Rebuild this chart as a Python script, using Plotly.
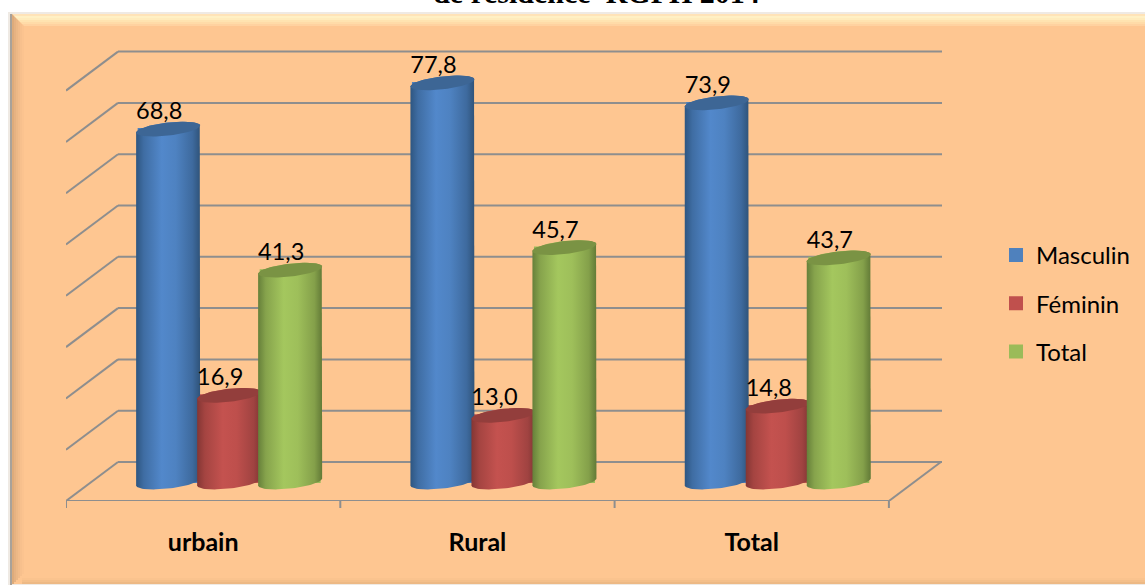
import math
import plotly.graph_objects as go

categories = ["urbain", "Rural", "Total"]
masculin = [68.8, 77.8, 73.9]
feminin = [16.9, 13.0, 14.8]
total = [41.3, 45.7, 43.7]
grid_values = [0, 10, 20, 30, 40, 50, 60, 70, 80]

W, H = 1145, 585
L, R, T, B = 66, 942, 40, 501      # plot area in page pixels
CAT_PX = 274.3                     # pixels per category
VAL_PX = 5.13                      # pixels per unit of value
XMIN = -0.5
XMAX = XMIN + (R - L) / CAT_PX
YMIN = -3.7
YMAX = YMIN + (B - T) / VAL_PX
DX = 52 / CAT_PX                   # floor depth, x units
DY = 39 / VAL_PX                   # floor depth, value units
BX = 26 / CAT_PX                   # bars stand halfway in the floor


def px(p):
    return (p - L) / (R - L)


def py(p):
    return (B - p) / (B - T)


series = [
    ("Masculin", masculin, "#4F81BD", "#3D6695",
     [[0, "#2E5681"], [0.12, "#3F6DA3"], [0.4, "#5288CB"], [0.62, "#4E82C1"], [0.88, "#3E6A9E"], [1, "#2F5379"]]),
    ("Féminin", feminin, "#C0504D", "#933E3C",
     [[0, "#843634"], [0.12, "#A44441"], [0.4, "#C4524F"], [0.62, "#BE4F4C"], [0.88, "#A04341"], [1, "#7F3533"]]),
    ("Total", total, "#9BBB59", "#7A9344",
     [[0, "#66803A"], [0.12, "#86A34C"], [0.4, "#A4C75E"], [0.62, "#9EBF5A"], [0.88, "#84A04A"], [1, "#627A37"]]),
]
BAR_W = 63 / CAT_PX
STEP = 61 / CAT_PX
EA, EB, ES = 32 / CAT_PX, 6.5 / VAL_PX, 3.5 / VAL_PX


def ell(cx, cy, t):
    return cx + EA * math.cos(t), cy + EB * math.sin(t) + ES * math.cos(t)


shapes = []
# page frame
FR_L, FR_T, FR_B = 12, 14, 584
FILL = "#FEC691"


def rect(x0, y0, x1, y1, color):
    shapes.append(dict(type="rect", xref="paper", yref="paper", x0=px(x0), x1=px(x1),
                       y0=py(y0), y1=py(y1), fillcolor=color, line_width=0, layer="below"))


rect(FR_L - 4, FR_T - 2, W, H, "#EFEAE4")
rect(FR_L - 2, FR_T, FR_L, H, "#A8A29A")
rect(FR_L, FR_T, W, FR_B, FILL)
for i, c in enumerate(["#DDAB7B", "#E6B282", "#ECB886", "#F2BC8A", "#F7C08D", "#FBC38F"]):
    rect(FR_L + 2 * i, FR_T + 2 * i, FR_L + 2 * i + 2, FR_B - 2 * i, c)
for i, c in enumerate(["#FFE3B8", "#FFF0C4", "#FFEBBC", "#FFE3B0", "#FFDBA8", "#FFD2A0"]):
    y0 = FR_T + 2 * i
    x0 = FR_L + 2 * i
    shapes.append(dict(type="path", xref="paper", yref="paper", layer="below", line_width=0, fillcolor=c,
                       path=f"M{px(x0)},{py(y0)}L{px(W)},{py(y0)}L{px(W)},{py(y0+2)}L{px(x0+2)},{py(y0+2)}Z"))
for i, c in enumerate(["#EDB985", "#F4BF8A", "#FAC38E"]):
    rect(FR_L + 10, FR_B - 2 * i - 2, W, FR_B - 2 * i, c)

# walls and floor
GRID = dict(color="#8E8E8E", width=2)
for v in grid_values:
    yb = YMIN + DY + v
    yf = YMIN + v
    shapes.append(dict(type="line", xref="x", yref="y", x0=XMIN + DX, x1=XMAX, y0=yb, y1=yb, line=GRID, layer="below"))
    shapes.append(dict(type="line", xref="x", yref="y", x0=XMIN, x1=XMIN + DX, y0=yf, y1=yb, line=GRID, layer="below"))
XF = XMIN + len(categories)
shapes.append(dict(type="line", xref="x", yref="y", x0=XMIN, x1=XF, y0=YMIN, y1=YMIN, line=GRID, layer="below"))
shapes.append(dict(type="line", xref="x", yref="y", x0=XF, x1=XF + DX, y0=YMIN, y1=YMIN + DY, line=GRID, layer="below"))
for k in range(len(categories) + 1):
    shapes.append(dict(type="line", xref="x", yref="paper", x0=XMIN + k, x1=XMIN + k,
                       y0=0, y1=py(B + 7), line=GRID, layer="below"))

fig = go.Figure()
positions = {}
for s, (name, vals, col, cap, cs) in enumerate(series):
    xs = [i + BX + (s - 1) * STEP for i in range(len(categories))]
    positions[name] = xs
    fig.add_trace(go.Bar(x=xs, y=vals, width=BAR_W - 4 / CAT_PX, name=name, legendgroup=name,
                         marker=dict(color=col, line=dict(color=col, width=2)), hoverinfo="skip"))

N = 40
for name, vals, col, cap, cs in series:
    for x, v in zip(positions[name], vals):
        front = [ell(x, 0, math.pi + math.pi * k / N) for k in range(N + 1)]
        back = [ell(x, v, math.pi * k / N) for k in range(N + 1)]
        pts = front + back
        fig.add_trace(go.Scatter(x=[p[0] for p in pts] + [pts[0][0]], y=[p[1] for p in pts] + [pts[0][1]],
                                 mode="lines", line=dict(width=0), fill="toself", showlegend=False, hoverinfo="skip",
                                 fillcolor=col,
                                 fillgradient=dict(type="horizontal", colorscale=cs)))
        top = [ell(x, v, 2 * math.pi * k / (2 * N)) for k in range(2 * N + 1)]
        fig.add_trace(go.Scatter(x=[p[0] for p in top], y=[p[1] for p in top], mode="lines", line=dict(width=0),
                                 fill="toself", fillcolor=cap, showlegend=False, hoverinfo="skip"))

for name, vals, col, cap, cs in series:
    fig.add_trace(go.Scatter(x=[x - 9 / CAT_PX for x in positions[name]], y=[v + 4 / VAL_PX for v in vals],
                             mode="text", text=[f"{v:.1f}".replace(".", ",") for v in vals],
                             textposition="top center", textfont=dict(family="Lato", size=23.5, color="#000000"),
                             showlegend=False, hoverinfo="skip"))

fig.update_layout(
    width=W, height=H, autosize=False, barmode="overlay",
    margin=dict(l=L, r=W - R, t=T, b=H - B, pad=0, autoexpand=False),
    paper_bgcolor="#FFFFFF", plot_bgcolor="rgba(0,0,0,0)",
    shapes=shapes,
    title=dict(text="<b>de résidence  RGPH 2014</b>", font=dict(family="Liberation Serif", size=30, color="#000000"),
               xref="paper", x=px(596.5), xanchor="center", yref="container", y=1 - 3 / H, yanchor="bottom", pad=dict(b=0, t=0)),
    xaxis=dict(range=[XMIN, XMAX], showgrid=False, zeroline=False, showline=False, ticks="",
               tickmode="array", tickvals=list(range(len(categories))), ticktext=[f"<b>{c}</b>" for c in categories],
               tickfont=dict(family="Lato", size=25, color="#000000"), ticklabelstandoff=24),
    yaxis=dict(range=[YMIN, YMAX], visible=False),
    legend=dict(x=px(996), y=py(233), xanchor="left", yanchor="top", bgcolor="rgba(0,0,0,0)",
                tracegroupgap=14, font=dict(family="Lato", size=24, color="#000000")),
)
fig.write_html("out.html", config={"displayModeBar": False},
               post_script="document.body.style.margin='0';")
